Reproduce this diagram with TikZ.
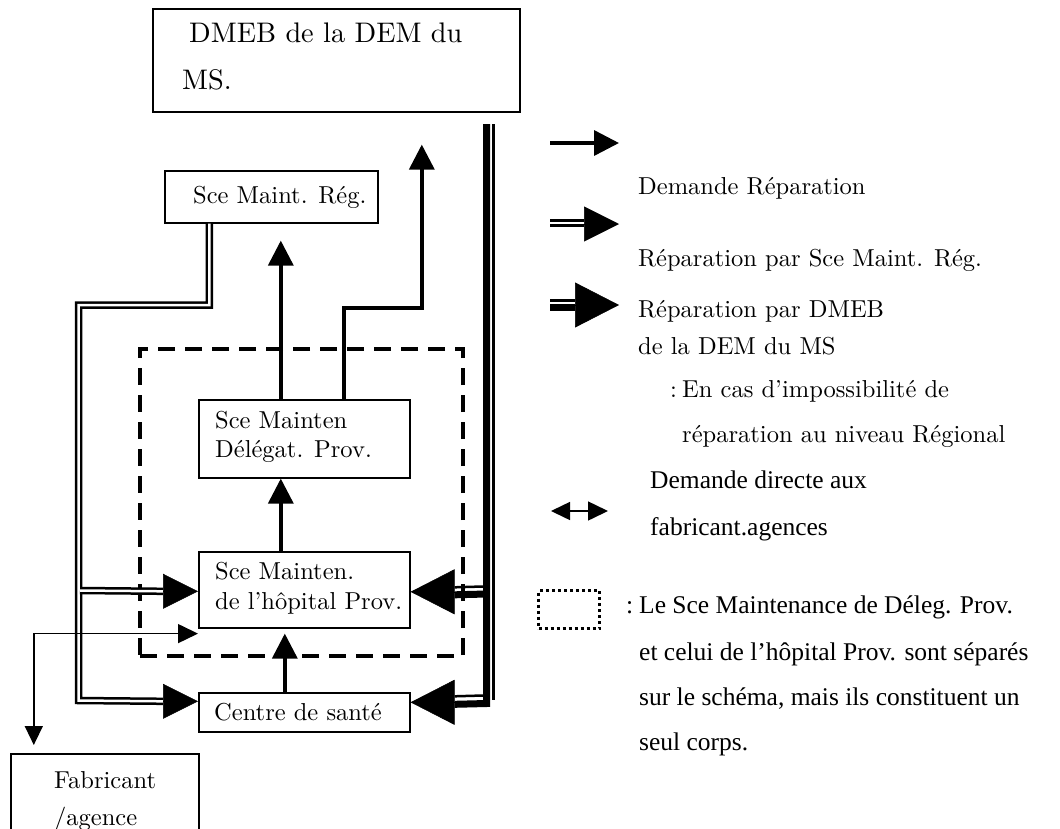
\documentclass[tikz,border=0pt]{standalone}
\usepackage{fontspec}
\setmainfont{lmroman10-regular.otf}
\newfontfamily\timesrm{Liberation Serif}
\usetikzlibrary{arrows.meta}
\begin{document}
\begin{tikzpicture}[x=1pt,y=-1pt,
  box/.style={draw, line width=1.6pt, inner sep=0pt, anchor=north west},
  lbl/.style={inner sep=0pt, anchor=base west, font=\fontsize{24.5}{30}\selectfont},
  big/.style={lbl, font=\fontsize{28.3}{33}\selectfont},
  leg/.style={lbl, font=\fontsize{24.5}{30}\selectfont},
  tmslbl/.style={lbl, font=\timesrm\fontsize{25.5}{30}\selectfont},
  req/.style={line width=3.5pt, -{Triangle[length=25pt,width=25pt]}},
  dbl/.style={double, double distance=2.5pt, line width=2.5pt},
  dbltip/.style={line width=0.5pt, -{Triangle[length=35pt,width=35pt]}},
  heavy/.style={line width=7pt},
  heavytip/.style={line width=0.5pt, -{Triangle[length=44pt,width=45pt]}},
  fine/.style={line width=2.5pt},
  direct/.style={line width=1.5pt, {Triangle[length=19pt,width=18pt]}-{Triangle[length=20pt,width=19pt]}},
  grpbox/.style={draw, line width=4pt, dash pattern=on 17pt off 10pt, inner sep=0pt, anchor=north west},
  dotbox/.style={draw, line width=3pt, dash pattern=on 3pt off 3pt, inner sep=0pt, anchor=north west}]

\fill[white] (0,0) rectangle (1060,828);
\useasboundingbox (0,0) rectangle (1060,828);

% ---------- boxes ----------
\node[box, minimum width=367pt, minimum height=103pt] (dmeb)   at (152,8)   {};
\node[box, minimum width=213pt, minimum height=52pt]  (reg)    at (164,170) {};
\node[box, minimum width=211pt, minimum height=78pt]  (deleg)  at (198,399) {};
\node[box, minimum width=211pt, minimum height=76pt]  (hosp)   at (198,551) {};
\node[box, minimum width=211pt, minimum height=39pt]  (centre) at (198,692) {};
\node[box, minimum width=188pt, minimum height=120pt] (fab)    at (10,753)  {};
\node[grpbox, minimum width=323pt, minimum height=307pt] (unit) at (138,347) {};

% ---------- box texts ----------
\node[big] (dmebA)   at (189,42)  {DMEB de la DEM du};
\node[big] (dmebB)   at (182,89)  {MS.};
\node[lbl] (regA)    at (193,203) {Sce Maint. Rég.};
\node[lbl] (delegA)  at (215,428) {Sce Mainten};
\node[lbl] (delegB)  at (215,457) {Délégat. Prov.};
\node[lbl] (hospA)   at (215,579) {Sce Mainten.};
\node[lbl] (hospB)   at (215,609) {de l’hôpital Prov.};
\node[lbl] (centreA) at (214,720) {Centre de santé};
\node[lbl] (fabA)    at (54,788)  {Fabricant};
\node[lbl] (fabB)    at (54,825)  {/agence};

% ---------- repair requests ----------
\draw[req] ([xshift=-23.5pt]hosp.north) -- ([xshift=-23.5pt]deleg.south);
\draw[req, shorten >=5pt] ([xshift=-19.5pt]centre.north) -- ([xshift=-19.5pt]hosp.south);
\draw[req, shorten >=17pt] ([xshift=-23.5pt]deleg.north) -- ([xshift=9.5pt]reg.south);
\draw[req, shorten >=32pt] ([xshift=39.5pt]deleg.north) -- ++(0,-91) -| ([xshift=85.5pt]dmeb.south);

% ---------- repair by the regional service ----------
\coordinate (rbend) at (78.5,305);
\coordinate (rfoot) at (78.5,700.5);
\coordinate (rtee)  at (80,590.5);
\draw[dbl] ([xshift=-62pt]reg.south) |- (rbend) -- (rfoot) -- ([xshift=-35pt,yshift=11pt]centre.west);
\draw[dbltip] ([xshift=-35pt,yshift=11pt]centre.west) -- ([yshift=11pt]centre.west);
\draw[dbl] (rtee) -- ([xshift=-35pt,yshift=-1.5pt]hosp.west);
\draw[dbltip] ([xshift=-35pt,yshift=-1.5pt]hosp.west) -- ([yshift=-1.5pt]hosp.west);

% ---------- repair by the DMEB ----------
\coordinate (dtop)  at (486.5,124);
\coordinate (dfoot) at (486.5,703.5);
\coordinate (dtee)  at (486.5,594);
\coordinate (ftop)  at (493.5,124);
\coordinate (fend)  at (493.5,700);
\coordinate (fh)    at (483,586.5);
\coordinate (fc)    at (483,695.5);
\draw[heavy] (dtop) -- (dfoot) -- ([xshift=44pt,yshift=8pt]centre.east);
\draw[heavytip] ([xshift=44pt,yshift=10pt]centre.east) -- ([yshift=10pt]centre.east);
\draw[heavy] (dtee) -- ([xshift=44pt,yshift=-5pt]hosp.east);
\draw[heavytip] ([xshift=44pt,yshift=-2pt]hosp.east) -- ([yshift=-2pt]hosp.east);
\draw[fine] (ftop) -- (fend);
\draw[fine] ([xshift=44pt,yshift=2.5pt]hosp.east) -- (fh);
\draw[fine] ([xshift=44pt,yshift=16pt]centre.east) -- (fc);

% ---------- direct request to the manufacturer ----------
\draw[direct, shorten <=8pt] ([xshift=-71pt]fab.north) |- ([yshift=-5pt]hosp.south west);

% ---------- legend ----------
\coordinate (k1a) at (550,143);   \coordinate (k1b) at (619,143);
\draw[req] (k1a) -- (k1b);
\node[leg] (k1t) at (638,194) {Demande Réparation};

\coordinate (k2a) at (550,223);   \coordinate (k2b) at (584,223);
\coordinate (k2c) at (584,224);   \coordinate (k2d) at (619,224);
\draw[dbl] (k2a) -- (k2b);
\draw[dbltip] (k2c) -- (k2d);
\node[leg] (k2t) at (638,266) {Réparation par Sce Maint. Rég.};

\coordinate (k3a) at (550,307.5); \coordinate (k3b) at (575,307.5);
\coordinate (k3c) at (550,300.5); \coordinate (k3d) at (575,300.5);
\coordinate (k3e) at (575,305);   \coordinate (k3f) at (619,305);
\draw[heavy] (k3a) -- (k3b);
\draw[fine] (k3c) -- (k3d);
\draw[heavytip] (k3e) -- (k3f);
\node[leg] (k3t) at (638,317) {Réparation par DMEB};
\node[leg] (k3u) at (638,354) {de la DEM du MS};
\node[leg] (k3v) at (670,397) {:};
\node[leg] (k3w) at (682,397) {En cas d’impossibilité de};
\node[leg] (k3x) at (682,442) {réparation au niveau Régional};

\coordinate (k4a) at (551,511);   \coordinate (k4b) at (608,511);
\draw[direct] (k4a) -- (k4b);
\node[tmslbl] (k4t) at (650,488) {Demande directe aux};
\node[tmslbl] (k4u) at (650,535) {fabricant.agences};

\node[dotbox, minimum width=61pt, minimum height=38pt] (k5) at (537,589) {};
\node[tmslbl] (k5c) at (626,613) {:};
\node[tmslbl] (k5t) at (639,613) {Le Sce Maintenance de Déleg. Prov.};
\node[tmslbl] (k5u) at (639,660) {et celui de l’hôpital Prov. sont séparés};
\node[tmslbl] (k5v) at (639,705) {sur le schéma, mais ils constituent un};
\node[tmslbl] (k5w) at (639,750) {seul corps.};
\end{tikzpicture}
\end{document}
